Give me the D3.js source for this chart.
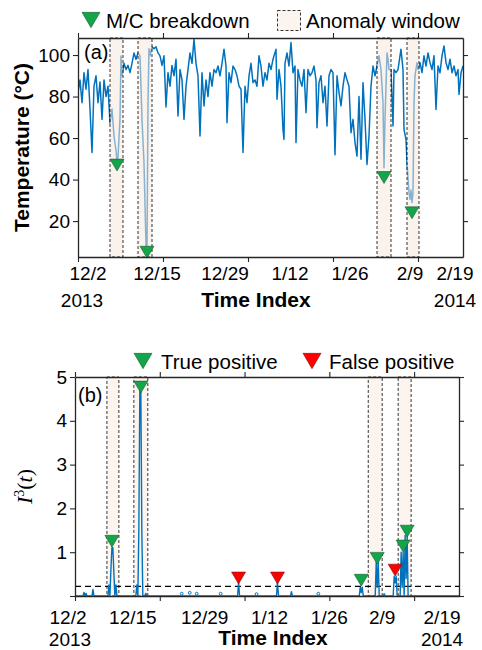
<!DOCTYPE html>
<html><head><meta charset="utf-8">
<script src="https://cdn.jsdelivr.net/npm/d3@7"></script>
<style>body{margin:0;background:#fff} text{font-family:"Liberation Sans",Arial,Helvetica,sans-serif;fill:#000}</style>
</head><body><svg id="c" width="482" height="650"></svg>
<script>
// ---------- data (time index units) ----------
const tTemp = [0,2,4,6,8,10,12,14,16,18,20,22,24,26,28,30,32,34,36,38,39,40,42,43,44,46,48,50,52,54,56,58,60,62,64,66,68,69,70,71,72,74,76,78,80,82,84,86,88,90,92,94,96,98,100,102,104,106,108,110,112,114,116,118,120,122,124,126,128,130,132,134,136,138,140,142,144,146,148,149,151,153,155,157,159,161,163,165,167,169,171,173,175,177,179,181,183,185,187,189,191,193,195,196,198,199,201,203,205,206,207,209,211,213,215,217,218,220,222,224,226,228,230,232,234,236,238,239,241,243,245,247,249,251,253,255,257,259,261,263,265,267,269,271,273,275,277,279,281,283,285,287,289,291,293,295,297,299,301,303,305,306,307,309,310,311,313,315,316,318,320,322,323,325,326,328,329,331,332,333,334,335,336,337,339,340,342,344,346,348,350,352,354,356,358,360,362,364,366,368,370,372,374,376,378,380,381,383,385];
const temp = [82,88,77,91.5,83.5,93,74,53,85,90,77,87,69,88,80,85,67,74,61,54,49,51,69,99.5,90,96,93,95,91.5,96,101,98,101,99.6,69,48,8,6,77,103,99.6,104,103,104,101,99.6,95,99.6,75,91.5,85,95,90,98,70.6,93,88,69,85,93,101,96,107.6,96,90,61,91.5,75.5,88,80,91.5,85,93,91.5,94.7,90,96,102.8,94.7,67.4,91.5,86.7,94.7,93,90,85,83.5,53,85,77,90,96,86.7,88,85,99.6,94.7,85,91.5,88,96,93,98,99.6,102.8,78.7,93,85,64,59.4,96,101,94.7,106,91.5,94.7,57.8,93,88,85,93,72.2,93,90,91.5,94.7,88,65,86.7,90,77,85,65.8,90,93,91.5,52,90,82,75.5,85,91.5,88,85,62.6,69,57.8,51.3,80,49.8,86.7,69,47.3,61,85,94.7,90,94.7,99.6,93,77,45.7,69,101,98,93,93,65.8,93,91.5,93,99.6,102.8,93,64.2,59.4,48,33.7,30.5,35,28.9,33.7,77,90,96.3,93,96.3,91.5,99.6,94.7,101,96.3,93,99.6,73.8,94.7,91.5,99.6,104.4,96.3,93,98,91.5,94.7,90,93,81,91.5,94.7];
const windowsA = [[32,45],[60,74],[299,313],[329,341]];
const breakT = [39,69,306,334];
const breakV = [47,5,41,24];

const tScore = [0,8,9,10,11,12,17,18,19,33,34,35,36,37,38,39,40,41,42,61,62,63,64,65,66,67,68,70,71,72,163,164,165,202,203,204,216,217,218,285,286,287,288,289,301,302,303,304,305,309,310,311,319,320,321,322,323,326,327,328,329,330,331,332,333,334,385];
const score = [0,0,0.08,0,0.06,0,0,0.15,0,0,0.25,0,0.6,1.1,1.1,0.5,0,0.25,0,0,0.25,0,1.5,4.7,4.7,1.5,0,0,0.06,0,0,0.32,0,0,0.33,0,0,0.1,0,0,0.2,0.08,0.2,0,0,0.77,0.2,0.77,0,0,0.05,0,0,0.45,0.3,0.45,0,0,1.0,0.2,1.0,0,1.38,0.4,1.38,0,0];
const dotT = [107,115,122,146,182,244];
const dotV = [0.03,0.05,0.03,0.03,0.02,0.03];
const windowsB = [[32,44],[59,73],[294,308],[324,337]];
const tpT = [37,66,287,303,329,333];
const tpV = [1.25,4.77,0.36,0.86,1.14,1.48];
const fpT = [164,203,321];
const fpV = [0.41,0.41,0.59];
const threshold = 0.22;

const xTicks = [0,85,170,255,340];
const yTicksA = [20,40,60,80,100];
const yTicksB = [0,1,2,3,4,5];
const dateLabels = ["12/2","12/15","12/29","1/12","1/26","2/9","2/19"];
const dateTA = [10,79,147,212,272,332,377];
const dateTB = [-7,58,130,195,255,308,368];
const yearLabels = ["2013","2014"];
const yearTA = [4,377];
const yearTB = [-5,368];

// ---------- drawing ----------
const svg = d3.select("#c");
const BLUE = "#0072BD", GREEN = "#12A54A", RED = "#FF0000", AX = "#262626";
const tri = s => `M${-s},${-s*0.85}L${s},${-s*0.85}L0,${s*0.85}Z`;

function panel(P, x, y, yTicks, showZero) {
  const g = svg.append("g");
  const axStyle = sel => {
    sel.selectAll("path.domain").attr("stroke",AX).attr("stroke-width",1.3);
    sel.selectAll(".tick line").attr("stroke",AX).attr("stroke-width",1.1);
    sel.selectAll(".tick text").attr("font-size","19px").attr("fill","#000")
      .style("font-family",'"Liberation Sans",Arial,sans-serif');
  };
  g.append("g").attr("transform",`translate(0,${P.b})`)
    .call(d3.axisBottom(x).tickValues(xTicks).tickFormat("").tickSize(5).tickSizeOuter(0)).call(axStyle);
  g.append("g").attr("transform",`translate(0,${P.t})`)
    .call(d3.axisTop(x).tickValues(xTicks).tickFormat("").tickSize(5).tickSizeOuter(0)).call(axStyle);
  g.append("g").attr("transform",`translate(${P.l},0)`)
    .call(d3.axisLeft(y).tickValues(yTicks).tickFormat(d => (d===0 && !showZero) ? "" : d).tickSize(5).tickPadding(3).tickSizeOuter(0)).call(axStyle);
  g.append("g").attr("transform",`translate(${P.r},0)`)
    .call(d3.axisRight(y).tickValues(yTicks).tickFormat("").tickSize(5).tickSizeOuter(0)).call(axStyle);
  return g;
}

// Panel A
const A = {id:"A", l:78, r:463, t:38, b:257};
const xA = d3.scaleLinear().domain([0,385]).range([A.l,A.r]);
const yA = d3.scaleLinear().domain([2.7,108.2]).range([A.b,A.t]);
const gA = svg.append("g");
gA.append("defs").append("clipPath").attr("id","cA").append("rect")
  .attr("x",A.l).attr("y",A.t).attr("width",A.r-A.l).attr("height",A.b-A.t);
gA.append("path").datum(tTemp.map((t,i)=>[t,temp[i]]))
  .attr("clip-path","url(#cA)")
  .attr("d", d3.line().x(d=>xA(d[0])).y(d=>yA(d[1])))
  .attr("fill","none").attr("stroke",BLUE).attr("stroke-width",1.5).attr("stroke-linejoin","round");
gA.selectAll("rect.win").data(windowsA).join("rect").attr("class","win")
  .attr("x",d=>xA(d[0])).attr("width",d=>xA(d[1])-xA(d[0]))
  .attr("y",A.t).attr("height",A.b-A.t)
  .attr("fill","rgba(246,232,222,0.55)").attr("stroke","#000").attr("stroke-width",0.8).attr("stroke-dasharray","3,2");
gA.selectAll("path.mk").data(breakT).join("path").attr("class","mk")
  .attr("transform",(d,i)=>`translate(${xA(d)},${yA(breakV[i])})`)
  .attr("d",tri(7)).attr("fill",GREEN).attr("stroke","#1d5a30").attr("stroke-width",0.6);
panel(A, xA, yA, yTicksA, true);
gA.append("text").attr("x",84).attr("y",59).attr("font-size","20px").text("(a)");
svg.append("g").selectAll("text").data(dateLabels).join("text")
  .attr("x",(d,i)=>xA(dateTA[i])).attr("y",280).attr("text-anchor","middle").attr("font-size","19px").text(d=>d);
svg.append("g").selectAll("text").data(yearLabels).join("text")
  .attr("x",(d,i)=>xA(yearTA[i])).attr("y",307).attr("text-anchor","middle").attr("font-size","19px").text(d=>d);
svg.append("text").attr("x",256).attr("y",307).attr("text-anchor","middle")
  .attr("font-size","21px").attr("font-weight","bold").text("Time Index");
svg.append("text").attr("transform",`translate(29,${(A.t+A.b)/2}) rotate(-90)`).attr("text-anchor","middle")
  .attr("font-size","21px").attr("font-weight","bold").text("Temperature (°C)");
// legend A
svg.append("path").attr("transform","translate(91,20)").attr("d",tri(9)).attr("fill",GREEN).attr("stroke","#1d5a30").attr("stroke-width",0.6);
svg.append("text").attr("x",106).attr("y",28).attr("font-size","20.5px").text("M/C breakdown");
svg.append("rect").attr("x",277.5).attr("y",10.5).attr("width",23).attr("height",20)
  .attr("fill","#fbf4ef").attr("stroke","#000").attr("stroke-width",0.8).attr("stroke-dasharray","3,2");
svg.append("text").attr("x",306).attr("y",28).attr("font-size","20.5px").text("Anomaly window");

// Panel B
const B = {id:"B", l:75, r:459, t:377, b:596};
const xB = d3.scaleLinear().domain([0,385]).range([B.l,B.r]);
const yB = d3.scaleLinear().domain([0,5]).range([B.b,B.t]);
const gB = svg.append("g");
gB.selectAll("rect.win").data(windowsB).join("rect").attr("class","win")
  .attr("x",d=>xB(d[0])).attr("width",d=>xB(d[1])-xB(d[0]))
  .attr("y",B.t).attr("height",B.b-B.t)
  .attr("fill","#fbf4ef").attr("stroke","#000").attr("stroke-width",0.8).attr("stroke-dasharray","3,2");
gB.append("line").attr("x1",B.l).attr("x2",B.r).attr("y1",yB(threshold)).attr("y2",yB(threshold))
  .attr("stroke","#000").attr("stroke-width",1.2).attr("stroke-dasharray","6,4");
panel(B, xB, yB, yTicksB, false);
gB.append("path").datum(tScore.map((t,i)=>[t,score[i]]))
  .attr("d", d3.line().x(d=>xB(d[0])).y(d=>yB(d[1])))
  .attr("fill","none").attr("stroke",BLUE).attr("stroke-width",1.4).attr("stroke-linejoin","round");
gB.selectAll("circle.dot").data(dotT).join("circle").attr("class","dot")
  .attr("cx",d=>xB(d)).attr("cy",(d,i)=>yB(dotV[i])-1).attr("r",1.4)
  .attr("fill","none").attr("stroke",BLUE).attr("stroke-width",1);
gB.selectAll("path.tp").data(tpT).join("path").attr("class","tp")
  .attr("transform",(d,i)=>`translate(${xB(d)},${yB(tpV[i])})`)
  .attr("d",tri(7)).attr("fill",GREEN).attr("stroke","#1d5a30").attr("stroke-width",0.6);
gB.selectAll("path.fp").data(fpT).join("path").attr("class","fp")
  .attr("transform",(d,i)=>`translate(${xB(d)},${yB(fpV[i])})`)
  .attr("d",tri(7)).attr("fill",RED).attr("stroke","#7a1010").attr("stroke-width",0.6);
gB.append("text").attr("x",78).attr("y",402).attr("font-size","20px").text("(b)");
svg.append("g").selectAll("text").data(dateLabels).join("text")
  .attr("x",(d,i)=>xB(dateTB[i])).attr("y",624).attr("text-anchor","middle").attr("font-size","19px").text(d=>d);
svg.append("g").selectAll("text").data(yearLabels).join("text")
  .attr("x",(d,i)=>xB(yearTB[i])).attr("y",646).attr("text-anchor","middle").attr("font-size","19px").text(d=>d);
svg.append("text").attr("x",273).attr("y",645).attr("text-anchor","middle")
  .attr("font-size","21px").attr("font-weight","bold").text("Time Index");
const yl = svg.append("text").attr("transform",`translate(32,${(B.t+B.b)/2}) rotate(-90)`).attr("text-anchor","middle")
  .style("font-family",'"Liberation Serif","Times New Roman",serif').attr("font-size","22px");
yl.append("tspan").attr("font-style","italic").text("I");
yl.append("tspan").attr("font-size","14px").attr("dy",-8).text("3");
yl.append("tspan").attr("dy",8).text("(");
yl.append("tspan").attr("font-style","italic").text("t");
yl.append("tspan").text(")");
// legend B
svg.append("path").attr("transform","translate(143,361)").attr("d",tri(9)).attr("fill",GREEN).attr("stroke","#1d5a30").attr("stroke-width",0.6);
svg.append("text").attr("x",161).attr("y",369).attr("font-size","20.5px").text("True positive");
svg.append("path").attr("transform","translate(312,361)").attr("d",tri(9)).attr("fill",RED).attr("stroke","#7a1010").attr("stroke-width",0.6);
svg.append("text").attr("x",329).attr("y",369).attr("font-size","20.5px").text("False positive");
</script></body></html>
